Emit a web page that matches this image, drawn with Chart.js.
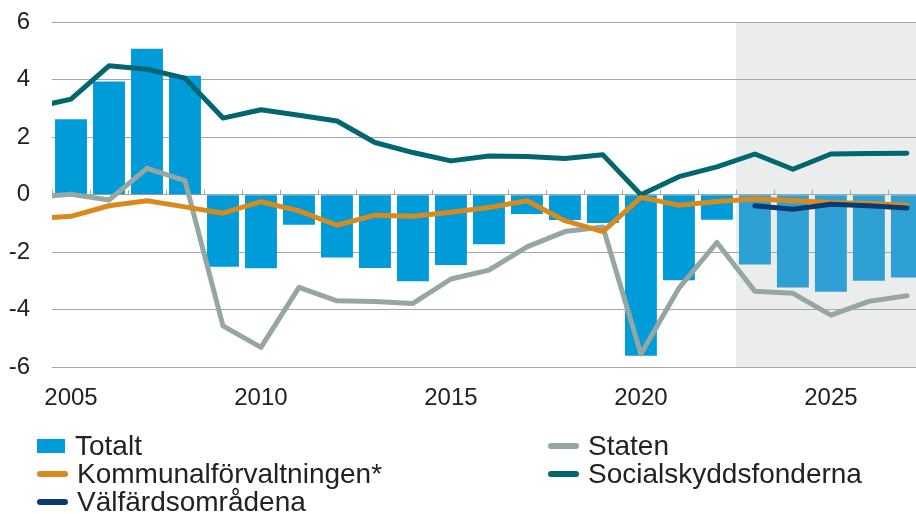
<!DOCTYPE html>
<html lang="sv">
<head>
<meta charset="UTF-8">
<title>Finansiellt sparande</title>
<script src="https://cdn.jsdelivr.net/npm/chart.js"></script>
<style>
  body { margin: 0; background: #fff; font-family: "Liberation Sans", Arial, sans-serif; color: #222; overflow: hidden; }
  #wrap { position: absolute; top: -14px; left: 0; width: 916px; height: 451px; }
  #legend { position: absolute; top: 432px; left: 37px; display: grid; grid-template-columns: 511px 330px; }
  .item { display: flex; align-items: center; height: 28px; line-height: 28px; font-size: 28px; white-space: nowrap; }
  .mark { width: 31px; height: 6px; border-radius: 3px; margin-right: 9px; }
  .mark.box { width: 28px; height: 14px; border-radius: 0; margin-right: 10px; }
</style>
</head>
<body>
<div id="wrap"><canvas id="chart"></canvas></div>
<div id="legend"></div>

<script>
    // år 2004 finns bara för att linjerna ska gå ut till vänsterkanten
    const years = [2004, 2005, 2006, 2007, 2008, 2009, 2010, 2011, 2012, 2013, 2014, 2015,
                   2016, 2017, 2018, 2019, 2020, 2021, 2022, 2023, 2024, 2025, 2026, 2027];
    const totalt = [null, 2.63, 3.94, 5.08, 4.14, -2.50, -2.56, -1.04, -2.18, -2.55, -3.01, -2.44,
                    -1.72, -0.67, -0.88, -0.98, -5.60, -2.97, -0.87, -2.43, -3.23, -3.37, -2.99, -2.88];
    const staten = [-0.08, 0.02, -0.18, 0.92, 0.49, -4.56, -5.31, -3.22, -3.69, -3.71, -3.78, -2.93,
                    -2.62, -1.81, -1.28, -1.12, -5.54, -3.25, -1.66, -3.36, -3.43, -4.19, -3.71, -3.51];
    const kommunal = [-0.83, -0.75, -0.38, -0.21, -0.42, -0.64, -0.24, -0.56, -1.06, -0.71, -0.75, -0.61,
                      -0.44, -0.21, -0.90, -1.28, -0.09, -0.36, -0.23, -0.15, -0.21, -0.27, -0.30, -0.36];
    const social = [3.03, 3.33, 4.49, 4.37, 4.06, 2.67, 2.96, 2.77, 2.57, 1.82, 1.47, 1.18,
                    1.35, 1.33, 1.26, 1.39, 0.00, 0.63, 0.97, 1.42, 0.89, 1.42, 1.44, 1.45];
    const valfard = [null, null, null, null, null, null, null, null, null, null, null, null,
                     null, null, null, null, null, null, null, -0.38, -0.50, -0.33, -0.38, -0.46];
    const xTicks = [2005, 2010, 2015, 2020, 2025];
    const yTicks = [-6, -4, -2, 0, 2, 4, 6];
    const forecastFrom = 2022.5;
    const xMin = 2004.5, xMax = 2027.24;

    const pts = arr => years.map((y, i) => ({x: y, y: arr[i]}));
    const line = (label, data, color) => ({
        type: 'line', label: label, data: pts(data), borderColor: color, backgroundColor: color,
        borderWidth: 5, pointRadius: 0, tension: 0, borderCapStyle: 'round', borderJoinStyle: 'round',
        spanGaps: false, clip: 0
    });

    const decor = {
        id: 'decor',
        beforeDraw(chart) {
            const {ctx, chartArea: a, scales: {x, y}} = chart;
            const left = x.getPixelForValue(forecastFrom);
            const top = y.getPixelForValue(yTicks[yTicks.length - 1]);
            const bottom = y.getPixelForValue(yTicks[0]);
            ctx.save();
            ctx.fillStyle = '#ebeded';
            ctx.fillRect(left, top, a.right - left, bottom - top);
            ctx.restore();
        },
        beforeDatasetsDraw(chart) {
            const {ctx, scales: {x, y}} = chart;
            const y0 = y.getPixelForValue(0);
            ctx.save();
            ctx.strokeStyle = '#a6a6a6';
            ctx.lineWidth = 1;
            for (let v = xMin; v < xMax; v += 1) {
                const px = Math.round(x.getPixelForValue(v)) + 0.5;
                ctx.beginPath();
                ctx.moveTo(px, y0 - 5);
                ctx.lineTo(px, y0);
                ctx.stroke();
            }
            ctx.restore();
        }
    };

    const chart = new Chart(document.getElementById('chart'), {
        type: 'bar',
        data: {
            datasets: [
                line('Välfärdsområdena', valfard, '#0a3a70'),
                line('Kommunalförvaltningen*', kommunal, '#d98a1e'),
                line('Socialskyddsfonderna', social, '#00666f'),
                line('Staten', staten, '#96a6a3'),
                {
                    label: 'Totalt', data: pts(totalt),
                    backgroundColor: c => (c.raw && c.raw.x > forecastFrom) ? '#2ea0d3' : '#009bd9',
                    barPercentage: 0.84, categoryPercentage: 1
                }
            ]
        },
        plugins: [decor],
        options: {
            responsive: true,
            maintainAspectRatio: false,
            animation: false,
            layout: {padding: {top: 8, right: 0, bottom: 7, left: 0}},
            plugins: {legend: {display: false}, tooltip: {enabled: false}},
            scales: {
                x: {
                    type: 'linear', min: xMin, max: xMax, offset: false,
                    grid: {display: false, drawTicks: false},
                    border: {display: false},
                    afterBuildTicks: s => { s.ticks = xTicks.map(v => ({value: v})); },
                    ticks: {
                        padding: 17, color: '#222', maxRotation: 0, autoSkip: false,
                        font: {family: '"Liberation Sans", Arial', size: 24},
                        callback: v => String(v)
                    }
                },
                y: {
                    min: -6, max: 6,
                    afterBuildTicks: s => { s.ticks = yTicks.map(v => ({value: v})); },
                    afterFit: s => { s.width = 52; },
                    grid: {color: '#a6a6a6', lineWidth: 1, drawTicks: false},
                    border: {display: false},
                    ticks: {
                        padding: 22, color: '#222',
                        font: {family: '"Liberation Sans", Arial', size: 24}
                    }
                }
            }
        }
    });

    // förklaringen i två kolumner, samma ordning som originalet
    const order = ['Totalt', 'Staten', 'Kommunalförvaltningen*', 'Socialskyddsfonderna', 'Välfärdsområdena'];
    const legend = document.getElementById('legend');
    order.forEach(name => {
        const ds = chart.data.datasets.find(d => d.label === name);
        const item = document.createElement('div');
        item.className = 'item';
        const mark = document.createElement('span');
        mark.className = ds.type === 'line' ? 'mark' : 'mark box';
        mark.style.background = ds.type === 'line' ? ds.borderColor : '#009bd9';
        const txt = document.createElement('span');
        txt.textContent = name;
        item.appendChild(mark);
        item.appendChild(txt);
        legend.appendChild(item);
    });
</script>
</body>
</html>
